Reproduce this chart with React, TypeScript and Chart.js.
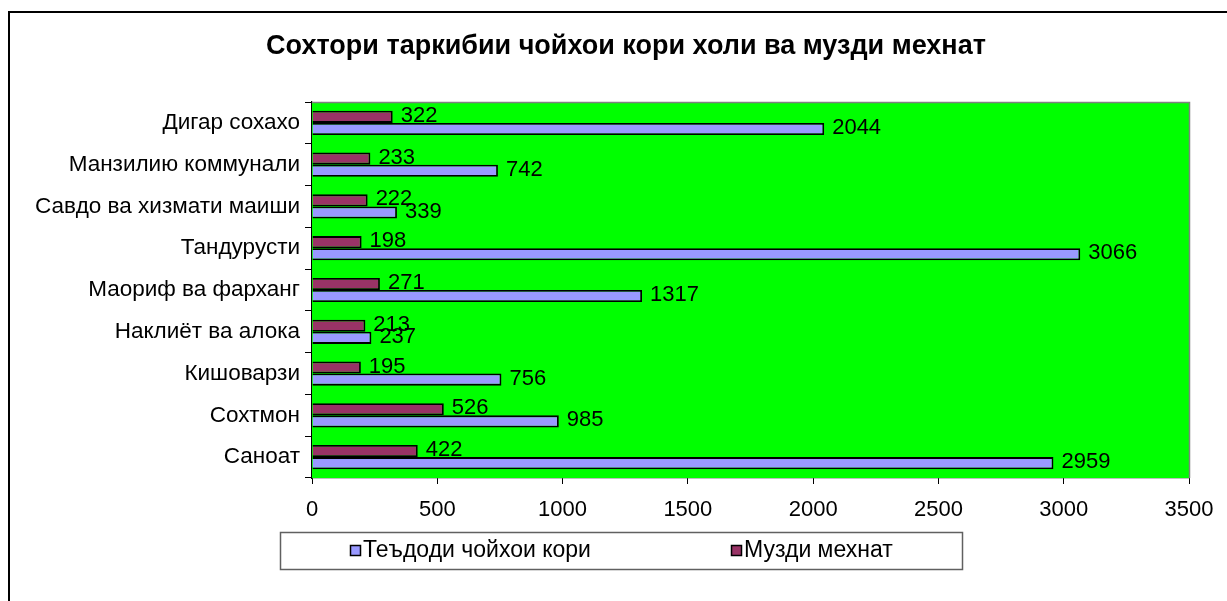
import React, { useEffect, useRef } from 'react';
import { Chart, registerables } from 'chart.js';

Chart.register(...registerables);

const categories = [
  'Дигар сохахо',
  'Манзилию коммунали',
  'Савдо ва хизмати маиши',
  'Тандурусти',
  'Маориф ва фарханг',
  'Наклиёт ва алока',
  'Кишоварзи',
  'Сохтмон',
  'Саноат',
];
const jobsValues = [2044, 742, 339, 3066, 1317, 237, 756, 985, 2959];
const wageValues = [322, 233, 222, 198, 271, 213, 195, 526, 422];
const xMin = 0;
const xMax = 3500;
const xStep = 500;
const titleText = 'Сохтори таркибии чойхои кори холи ва музди мехнат';
const jobsLabel = 'Теъдоди чойхои кори';
const wageLabel = 'Музди мехнат';

const BLUE = '#9999FF';
const MAROON = '#993366';
const GREEN = '#00FF00';
const FONT = '"Liberation Sans", Arial, sans-serif';

const decorPlugin = {
  id: 'decor',
  beforeDatasetsDraw(chart: any) {
    const { ctx, chartArea } = chart;
    ctx.save();
    ctx.fillStyle = GREEN;
    ctx.fillRect(chartArea.left, chartArea.top, chartArea.right - chartArea.left, chartArea.bottom - chartArea.top);
    ctx.restore();
  },
  afterDatasetsDraw(chart: any) {
    const { ctx } = chart;
    ctx.save();
    ctx.font = `22px ${FONT}`;
    ctx.fillStyle = '#000';
    ctx.textAlign = 'left';
    ctx.textBaseline = 'middle';
    chart.data.datasets.forEach((ds: any, di: number) => {
      const meta = chart.getDatasetMeta(di);
      meta.data.forEach((bar: any, i: number) => {
        ctx.fillText(String(ds.data[i]), bar.x + 8, bar.y - 1);
      });
    });
    ctx.restore();
  },
  afterDraw(chart: any) {
    const { ctx, chartArea } = chart;
    ctx.save();
    // gray top / right plot border
    ctx.strokeStyle = '#808080';
    ctx.lineWidth = 1.5;
    ctx.beginPath();
    ctx.moveTo(chartArea.left, chartArea.top + 0.5);
    ctx.lineTo(chartArea.right + 0.5, chartArea.top + 0.5);
    ctx.lineTo(chartArea.right + 0.5, chartArea.bottom);
    ctx.stroke();

    // title
    ctx.fillStyle = '#000';
    ctx.font = `bold 27px ${FONT}`;
    ctx.textAlign = 'center';
    ctx.textBaseline = 'middle';
    ctx.fillText(titleText, 626, 47);

    // legend
    const lx = 280, ly = 532, lw = 682, lh = 37;
    ctx.strokeStyle = '#606060';
    ctx.lineWidth = 1.5;
    ctx.strokeRect(lx + 0.5, ly + 0.5, lw, lh);
    const items = [
      { label: jobsLabel, color: BLUE, x: 350 },
      { label: wageLabel, color: MAROON, x: 731 },
    ];
    ctx.font = `23px ${FONT}`;
    ctx.textAlign = 'left';
    items.forEach((it) => {
      ctx.fillStyle = it.color;
      ctx.fillRect(it.x, 545, 10, 10);
      ctx.strokeStyle = '#000';
      ctx.lineWidth = 1.5;
      ctx.strokeRect(it.x + 0.5, 545.5, 10, 10);
      ctx.fillStyle = '#000';
      ctx.fillText(it.label, it.x + 13, 551);
    });
    ctx.restore();
  },
};

export default function App() {
  const ref = useRef<HTMLCanvasElement | null>(null);
  useEffect(() => {
    if (!ref.current) return;
    const chart = new Chart(ref.current, {
      type: 'bar',
      data: {
        labels: categories,
        datasets: [
          {
            label: wageLabel,
            data: wageValues,
            backgroundColor: MAROON,
            borderColor: '#000',
            borderWidth: 1.8,
            categoryPercentage: 0.58,
            barPercentage: 1,
          },
          {
            label: jobsLabel,
            data: jobsValues,
            backgroundColor: BLUE,
            borderColor: '#000',
            borderWidth: 1.8,
            categoryPercentage: 0.58,
            barPercentage: 1,
          },
        ],
      },
      options: {
        indexAxis: 'y',
        animation: false,
        responsive: false,
        devicePixelRatio: 1,
        layout: { padding: { left: 0, top: 102, right: 38, bottom: 0 } },
        plugins: {
          legend: { display: false },
          title: { display: false },
          tooltip: { enabled: false },
        },
        scales: {
          x: {
            type: 'linear',
            min: xMin,
            max: xMax,
            ticks: {
              stepSize: xStep,
              color: '#000',
              padding: 13,
              font: { family: FONT, size: 22 },
              callback: (v: any) => String(v),
            },
            grid: { drawOnChartArea: false, drawTicks: true, tickLength: 6, tickColor: '#000' },
            border: { display: true, color: '#000', width: 1.2 },
            afterFit(scale: any) {
              scale.height = 123;
            },
          },
          y: {
            type: 'category',
            ticks: {
              color: '#000',
              padding: 5,
              font: { family: FONT, size: 22.5 },
              autoSkip: false,
            },
            grid: { drawOnChartArea: false, drawTicks: true, tickLength: 7, tickColor: '#000', offset: true },
            border: { display: true, color: '#000', width: 1.2 },
            afterFit(scale: any) {
              scale.width = 312;
            },
          },
        },
      },
      plugins: [decorPlugin],
    } as any);
    return () => chart.destroy();
  }, []);

  return (
    <div style={{ position: 'fixed', left: 0, top: 0, width: 1227, height: 601, overflow: 'hidden', background: '#fff' }}>
      <div
        style={{
          position: 'absolute',
          left: 8,
          top: 11,
          width: 1400,
          height: 800,
          border: '2px solid #000',
          boxSizing: 'border-box',
        }}
      />
      <canvas ref={ref} width={1227} height={601} style={{ position: 'absolute', left: 0, top: 0, width: 1227, height: 601 }} />
    </div>
  );
}
